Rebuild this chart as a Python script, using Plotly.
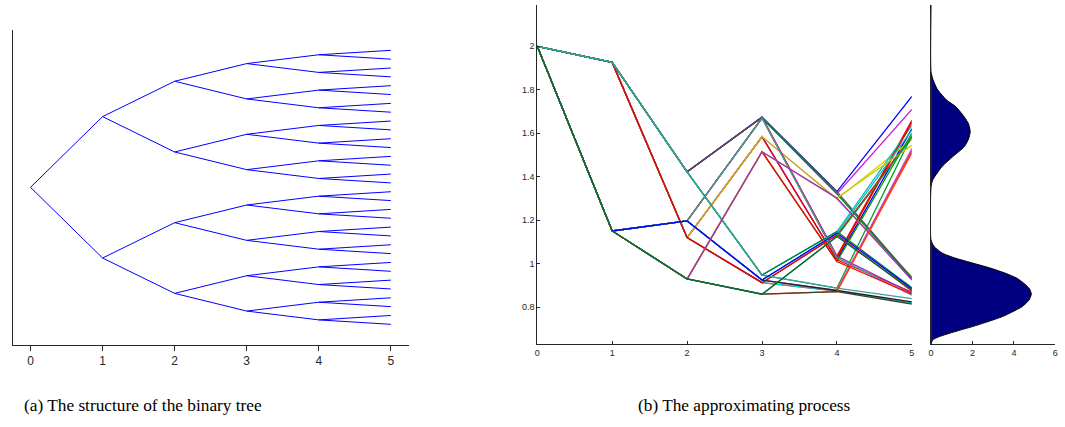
import plotly.graph_objects as go

# ---------------- data ----------------
# (a) binary tree: half-spread of the branches at each level
tree_levels = [0, 1, 2, 3, 4, 5]
branch_offsets = [1.0, 0.5, 0.25, 0.125, 0.0625]

# (b) approximating process: node values at each time step
time_steps = [0, 1, 2, 3, 4, 5]
t0_value = 2.0
t1_values = [1.926, 1.151]
t2_values = [1.120, 1.423, 1.197, 0.930]
t3_values = [1.584, 0.913, 1.674, 0.948, 1.670, 0.925, 1.515, 0.860]
t4_values = [1.018, 1.298, 0.875, 1.132, 1.035, 1.332, 1.148, 0.888,
             1.322, 1.028, 0.877, 1.140, 1.010, 1.302, 0.872, 1.125]
t5_values = [1.62, 0.87, 1.57, 0.94, 1.52, 0.82, 1.585, 0.875,
             1.66, 0.865, 1.77, 0.935, 1.635, 0.89, 1.59, 0.84,
             1.71, 0.93, 1.65, 0.855, 1.53, 0.825, 1.615, 0.885,
             1.60, 0.86, 1.545, 0.925, 1.51, 0.815, 1.58, 0.88]
path_colors = ['#0000FF', '#FF0000', '#D4D400', '#C8A030', '#FF2000', '#00C8C8', '#FF0000', '#D01010',
               '#FF0000', '#9E2FC0', '#0000FF', '#55533F', '#00C0C0', '#007F3F', '#00A030', '#3FA0A0',
               '#D020D0', '#007F3F', '#E00000', '#3FA0A0', '#D040D0', '#202020', '#00BFBF', '#0000FF',
               '#00A000', '#FF0000', '#C8C800', '#9E2FC0', '#FF4000', '#404030', '#1A8F3F', '#006B3C']

# terminal density (value axis, density)
density_y = [0.631, 0.650, 0.665, 0.680, 0.695, 0.711, 0.734, 0.757, 0.780, 0.803, 0.832, 0.860,
             0.885, 0.910, 0.933, 0.956, 0.979, 1.002, 1.025, 1.048, 1.078, 1.109,
             1.353, 1.385, 1.431, 1.454, 1.492, 1.538, 1.574, 1.607, 1.643, 1.676, 1.722,
             1.753, 1.800, 1.845, 1.883, 2.19]
density_x = [0.0, 0.08, 0.4, 0.88, 1.4, 2.0, 2.75, 3.45, 3.95, 4.4, 4.72, 4.84,
             4.75, 4.48, 4.15, 3.6, 2.9, 2.05, 1.2, 0.56, 0.16, 0.0,
             0.0, 0.08, 0.4, 0.6, 1.04, 1.6, 1.81, 1.89, 1.81, 1.6, 1.2,
             0.75, 0.32, 0.1, 0.0, 0.0]

x_ticks_a = [0, 1, 2, 3, 4, 5]
x_ticks_b = [0, 1, 2, 3, 4, 5]
y_ticks_b = [0.8, 1.0, 1.2, 1.4, 1.6, 1.8, 2.0]
y_ticktext_b = ['0.8', '1', '1.2', '1.4', '1.6', '1.8', '2']
x_ticks_c = [0, 2, 4, 6]

caption_a = "(a) The structure of the binary tree"
caption_b = "(b) The approximating process"

# ---------------- figure ----------------
W, H = 1065, 427
fig = go.Figure()

# tree segments
tx, ty = [], []
nodes = [0.0]
for lvl, off in enumerate(branch_offsets):
    new_nodes = []
    for v in nodes:
        for child in (v + off, v - off):
            tx += [tree_levels[lvl], tree_levels[lvl + 1], None]
            ty += [v, child, None]
            new_nodes.append(child)
    nodes = new_nodes
fig.add_trace(go.Scatter(x=tx, y=ty, mode='lines', line=dict(color='#0000FF', width=1),
                         xaxis='x', yaxis='y', hoverinfo='skip'))

# approximating process paths
for i in range(len(t5_values)):
    ys = [t0_value, t1_values[i // 16], t2_values[i // 8], t3_values[i // 4],
          t4_values[i // 2], t5_values[i]]
    fig.add_trace(go.Scatter(x=time_steps, y=ys, mode='lines',
                             line=dict(color=path_colors[i], width=1.3),
                             xaxis='x2', yaxis='y2'))

# density
fig.add_trace(go.Scatter(x=density_x, y=density_y, mode='lines', fill='tozerox',
                         fillcolor='#000080', line=dict(color='black', width=1, shape='spline', smoothing=0.6),
                         xaxis='x3', yaxis='y3'))

def px(x):
    return x / W

def py(y):
    return 1 - y / H

axcol = '#262626'
common = dict(showgrid=False, zeroline=False, showline=True, linecolor=axcol, linewidth=1,
              tickcolor=axcol)

fig.update_layout(
    width=W, height=H, margin=dict(l=0, r=0, t=0, b=0),
    paper_bgcolor='white', plot_bgcolor='white', showlegend=False,
    xaxis=dict(domain=[px(10), px(408)], range=[-0.244, 5.248], anchor='y',
               tickvals=x_ticks_a, ticks='outside', ticklen=5,
               tickfont=dict(family='Liberation Sans', size=12, color=axcol), **common),
    yaxis=dict(domain=[py(345), py(30)], range=[-2.23, 2.225], anchor='x',
               showticklabels=False, ticks='', **common),
    xaxis2=dict(domain=[px(537.3), px(914)], range=[0, 5], anchor='y2',
                tickvals=x_ticks_b, ticks='inside', ticklen=3,
                tickfont=dict(family='Liberation Sans', size=9, color=axcol), **common),
    yaxis2=dict(domain=[py(344), py(5)], range=[0.631, 2.19], anchor='x2',
                tickvals=y_ticks_b, ticktext=y_ticktext_b, ticks='inside', ticklen=3,
                tickfont=dict(family='Liberation Sans', size=9, color=axcol), **common),
    xaxis3=dict(domain=[px(933.3), px(1058.3)], range=[0, 6], anchor='y3',
                tickvals=x_ticks_c, ticks='inside', ticklen=3,
                tickfont=dict(family='Liberation Sans', size=9, color=axcol), **common),
    yaxis3=dict(domain=[py(344), py(5)], range=[0.631, 2.19], anchor='x3',
                showticklabels=False, ticks='', **common),
    annotations=[
        dict(text=caption_a, xref='paper', yref='paper', x=px(19), y=py(405),
             xanchor='left', yanchor='middle', showarrow=False,
             font=dict(family='Liberation Serif', size=17.3, color='black')),
        dict(text=caption_b, xref='paper', yref='paper', x=px(637), y=py(405),
             xanchor='left', yanchor='middle', showarrow=False,
             font=dict(family='Liberation Serif', size=17.3, color='black')),
    ],
)

fig.write_html("out.html", config={'displayModeBar': False},
               post_script="document.body.style.margin='0';")
